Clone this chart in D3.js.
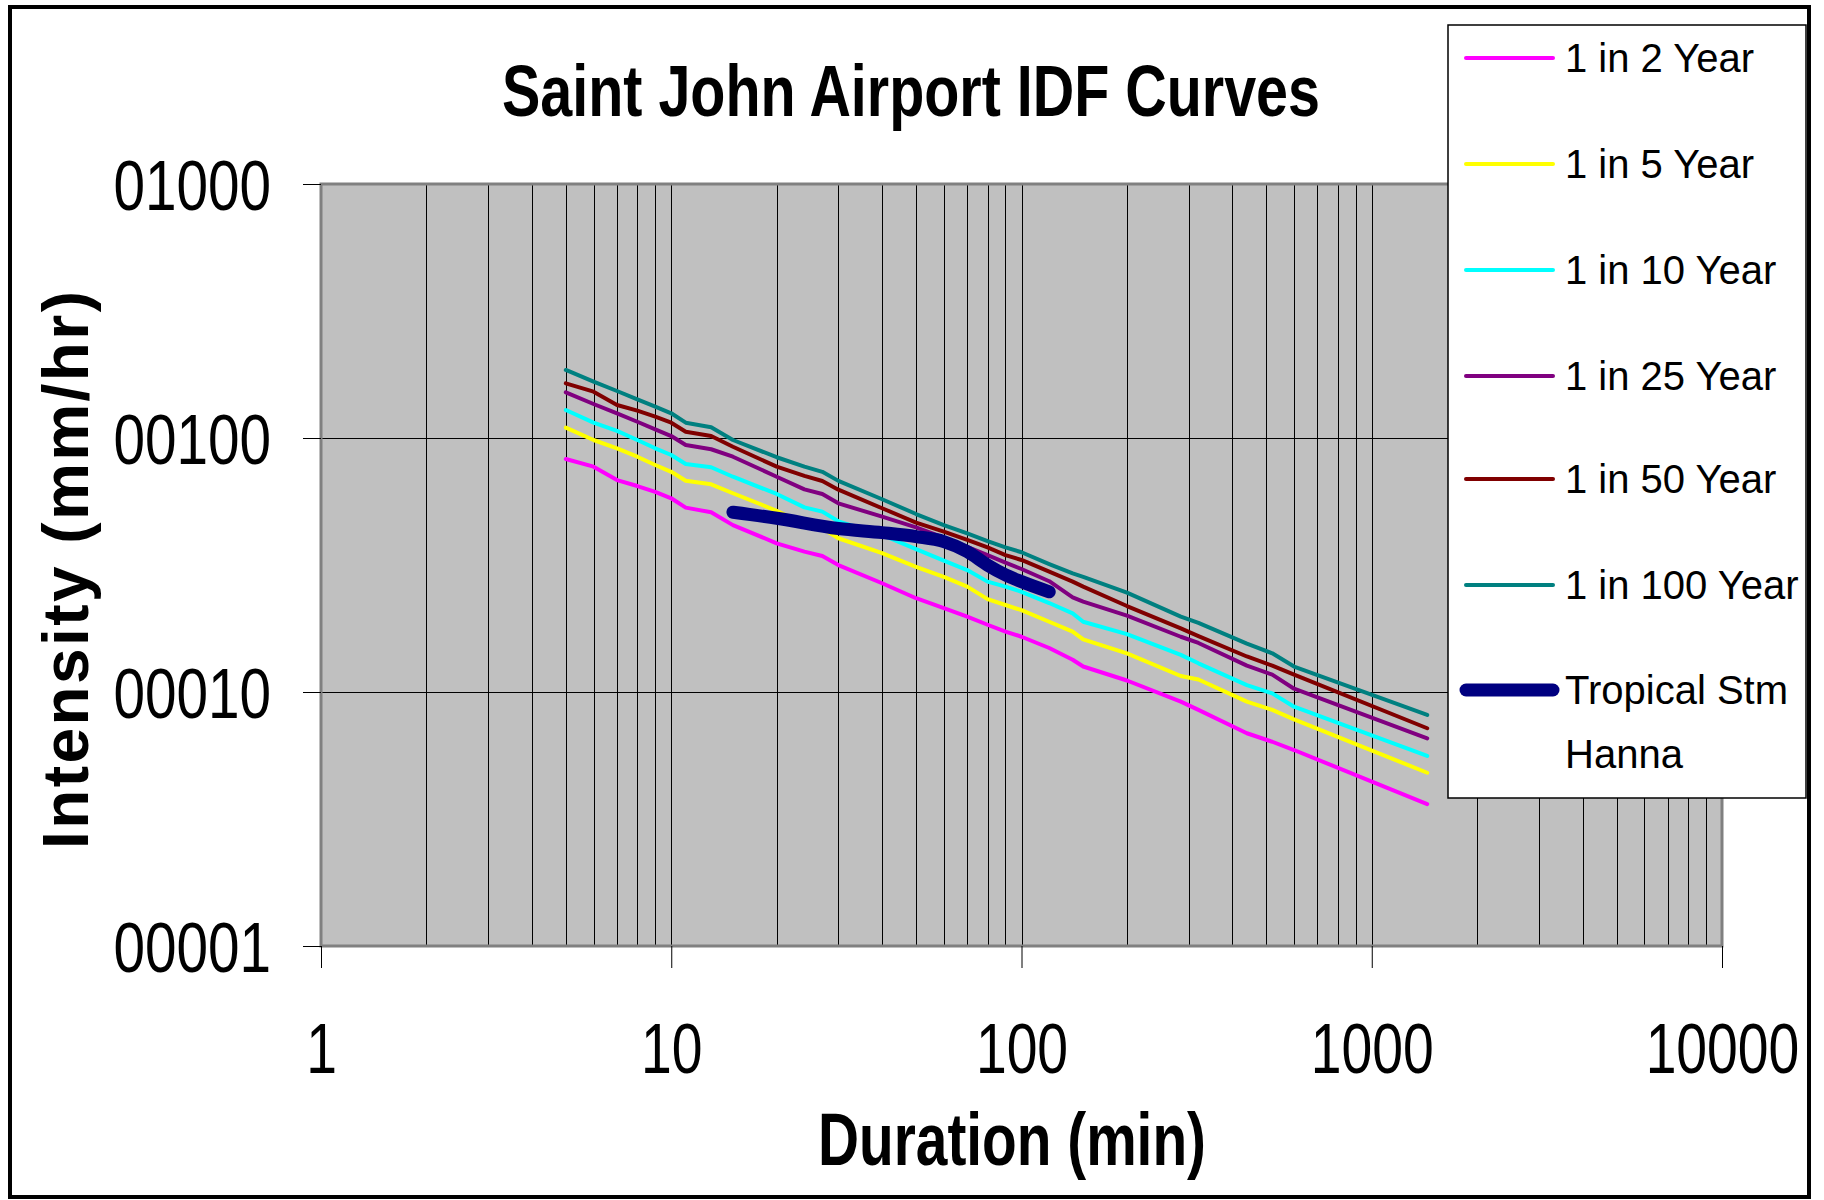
<!DOCTYPE html>
<html>
<head>
<meta charset="utf-8">
<script src="https://cdn.jsdelivr.net/npm/d3@7"></script>
<style>
  body { margin: 0; background: #fff; }
  svg { display: block; font-family: "Liberation Sans", Arial, sans-serif; }
</style>
</head>
<body>
<svg id="chart" width="1824" height="1200"></svg>
<script>
// durations (min) shared by the IDF curves
var durations = [5, 6, 7, 8, 9, 10, 11, 13, 15, 20, 24, 27, 30, 40, 50, 60, 70, 80, 90, 100,
                 120, 140, 150, 200, 285, 320, 440, 520, 600, 1440];

// intensities (mm/hr)
var twoYear = [82.7, 77.1, 68.3, 64.7, 61.4, 57.9, 53.2, 51.0, 45.4, 38.5, 35.7, 34.3, 31.6, 26.8, 23.4, 21.4, 19.8, 18.4, 17.3, 16.5,
               14.9, 13.4, 12.6, 11.1, 9.16, 8.5, 6.88, 6.37, 5.91, 3.62];
var fiveYear = [109.8, 98.2, 91.1, 84.4, 78.3, 73.6, 67.9, 65.7, 60.6, 51.7, 45.8, 44.1, 40.3, 35.2, 31.1, 28.4, 26.0, 23.2, 22.0, 21.0,
                18.9, 17.3, 16.1, 14.2, 11.56, 11.2, 9.16, 8.5, 7.8, 4.81];
var tenYear = [128.9, 114.9, 106.6, 98.2, 91.1, 85.7, 79.0, 76.7, 70.4, 60.2, 53.3, 51.3, 47.0, 41.5, 36.5, 32.9, 30.2, 27.2, 26.0, 24.8,
               22.4, 20.4, 18.9, 16.9, 14.0, 12.97, 10.65, 9.88, 8.75, 5.6];
var twentyFiveYear = [151.3, 136.1, 125.1, 115.9, 108.2, 101.8, 93.8, 90.3, 84.4, 70.4, 62.8, 60.2, 55.3, 49.0, 44.5, 40.5, 37.3, 34.6, 32.3, 30.5,
                      27.3, 23.6, 22.7, 20.0, 16.5, 15.6, 12.7, 11.7, 10.3, 6.57];
var fiftyYear = [164.2, 152.2, 134.9, 128.1, 121.3, 114.9, 105.9, 101.8, 92.4, 77.1, 70.9, 67.7, 62.6, 52.9, 46.4, 42.8, 39.7, 37.1, 34.6, 33.1,
                 29.8, 27.2, 26.0, 21.8, 17.8, 16.6, 13.8, 12.7, 11.7, 7.2];
var hundredYear = [185.3, 166.6, 153.1, 142.0, 132.8, 125.1, 114.9, 110.2, 98.2, 84.0, 77.1, 73.6, 67.8, 57.4, 50.2, 45.4, 42.1, 39.3, 37.1, 35.5,
                   31.9, 29.3, 28.4, 24.6, 19.8, 18.7, 15.5, 14.2, 12.6, 8.12];

// Tropical Storm Hanna
var hannaDurations = [15, 20, 30, 40, 50, 60, 70, 80, 90, 100, 120];
var hannaValues = [51.0, 48.3, 44.0, 42.4, 40.9, 39.1, 35.7, 31.6, 28.9, 27.2, 24.8];

var seriesNames = ["1 in 2 Year", "1 in 5 Year", "1 in 10 Year", "1 in 25 Year", "1 in 50 Year", "1 in 100 Year"];
var seriesColors = ["#ff00ff", "#ffff00", "#00ffff", "#800080", "#800000", "#008080"];
var seriesValues = [twoYear, fiveYear, tenYear, twentyFiveYear, fiftyYear, hundredYear];

var xTickValues = [1, 10, 100, 1000, 10000];
var xTickLabels = ["1", "10", "100", "1000", "10000"];
var yTickValues = [1, 10, 100, 1000];
var yTickLabels = ["00001", "00010", "00100", "01000"];

var plot = {left: 321, right: 1722, top: 184, bottom: 946};

var svg = d3.select("#chart");

var x = d3.scaleLog().domain([1, 10000]).range([plot.left, plot.right]);
var y = d3.scaleLog().domain([1, 1000]).range([plot.bottom, plot.top]);

// outer frame
svg.append("rect")
  .attr("x", 10).attr("y", 7)
  .attr("width", 1799).attr("height", 1190)
  .attr("fill", "#fff")
  .attr("stroke", "#000")
  .attr("stroke-width", 4);

// plot area
svg.append("rect")
  .attr("x", plot.left).attr("y", plot.top)
  .attr("width", plot.right - plot.left)
  .attr("height", plot.bottom - plot.top)
  .attr("fill", "#c0c0c0");

// grid lines
var xGrid = x.ticks().filter(function(d) { return d > 1 && d < 10000; });
svg.append("g")
  .selectAll("line")
  .data(xGrid)
  .enter().append("line")
  .attr("x1", function(d) { return Math.round(x(d)) + 0.5; })
  .attr("x2", function(d) { return Math.round(x(d)) + 0.5; })
  .attr("y1", plot.top)
  .attr("y2", plot.bottom)
  .attr("stroke", "#000")
  .attr("stroke-width", 1);

svg.append("g")
  .selectAll("line")
  .data(yTickValues.filter(function(d) { return d > 1 && d < 1000; }))
  .enter().append("line")
  .attr("x1", plot.left)
  .attr("x2", plot.right)
  .attr("y1", function(d) { return Math.round(y(d)) + 0.5; })
  .attr("y2", function(d) { return Math.round(y(d)) + 0.5; })
  .attr("stroke", "#000")
  .attr("stroke-width", 1);

// plot border
svg.append("rect")
  .attr("x", plot.left).attr("y", plot.top)
  .attr("width", plot.right - plot.left)
  .attr("height", plot.bottom - plot.top)
  .attr("fill", "none")
  .attr("stroke", "#808080")
  .attr("stroke-width", 3);

// axes
var yAxis = d3.axisLeft(y)
  .tickValues(yTickValues)
  .tickFormat(function(d, i) { return yTickLabels[i]; })
  .tickSize(18)
  .tickPadding(32);

var gy = svg.append("g")
  .attr("transform", "translate(" + plot.left + ",0)")
  .call(yAxis);
gy.select(".domain").remove();
gy.selectAll(".tick line").attr("stroke", "#000");
gy.selectAll(".tick text")
  .attr("dy", "0.36em")
  .style("font-family", "'Liberation Sans', Arial, sans-serif")
  .style("font-size", "70px")
  .attr("fill", "#000")
  .attr("textLength", function(d, i) { return yTickLabels[i].length * 31.5; })
  .attr("lengthAdjust", "spacingAndGlyphs");

var xAxis = d3.axisBottom(x)
  .tickValues(xTickValues)
  .tickFormat(function(d, i) { return xTickLabels[i]; })
  .tickSize(22)
  .tickPadding(55);

var gx = svg.append("g")
  .attr("transform", "translate(0," + plot.bottom + ")")
  .call(xAxis);
gx.select(".domain").remove();
gx.selectAll(".tick line").attr("stroke", "#000");
// narrow digits, squeezed around the tick centre
gx.selectAll(".tick text")
  .style("font-family", "'Liberation Sans', Arial, sans-serif")
  .style("font-size", "70px")
  .attr("fill", "#000")
  .attr("transform", "scale(0.79,1)");

// series
var line = d3.line()
  .x(function(d) { return x(d[0]); })
  .y(function(d) { return y(d[1]); });

seriesValues.forEach(function(vals, i) {
  svg.append("path")
    .datum(durations.map(function(d, j) { return [d, vals[j]]; }))
    .attr("d", line)
    .attr("fill", "none")
    .attr("stroke", seriesColors[i])
    .attr("stroke-width", 4)
    .attr("stroke-linejoin", "round")
    .attr("stroke-linecap", "round");
});

svg.append("path")
  .datum(hannaDurations.map(function(d, j) { return [d, hannaValues[j]]; }))
  .attr("d", line.curve(d3.curveMonotoneX))
  .attr("fill", "none")
  .attr("stroke", "#000080")
  .attr("stroke-width", 13)
  .attr("stroke-linejoin", "round")
  .attr("stroke-linecap", "round");

// title and axis titles
svg.append("text")
  .attr("x", 911).attr("y", 116)
  .attr("text-anchor", "middle")
  .style("font-size", "72px")
  .style("font-weight", "bold")
  .attr("textLength", 818)
  .attr("lengthAdjust", "spacingAndGlyphs")
  .text("Saint John Airport IDF Curves");

svg.append("text")
  .attr("x", 1012).attr("y", 1165)
  .attr("text-anchor", "middle")
  .style("font-size", "74px")
  .style("font-weight", "bold")
  .attr("textLength", 388)
  .attr("lengthAdjust", "spacingAndGlyphs")
  .text("Duration (min)");

svg.append("text")
  .attr("transform", "translate(88,570) rotate(-90)")
  .attr("text-anchor", "middle")
  .style("font-size", "64px")
  .style("font-weight", "bold")
  .attr("textLength", 558)
  .attr("lengthAdjust", "spacing")
  .text("Intensity (mm/hr)");

// legend
var legend = svg.append("g");
legend.append("rect")
  .attr("x", 1448).attr("y", 25)
  .attr("width", 358).attr("height", 773)
  .attr("fill", "#fff")
  .attr("stroke", "#000")
  .attr("stroke-width", 1.5);

var legendRows = [58, 164, 270, 376, 479, 585];
seriesNames.forEach(function(name, i) {
  legend.append("line")
    .attr("x1", 1466).attr("x2", 1553)
    .attr("y1", legendRows[i]).attr("y2", legendRows[i])
    .attr("stroke", seriesColors[i])
    .attr("stroke-width", 4)
    .attr("stroke-linecap", "round");
  legend.append("text")
    .attr("x", 1565).attr("y", legendRows[i])
    .attr("dy", "0.36em")
    .style("font-size", "40px")
    .text(name);
});

legend.append("line")
  .attr("x1", 1466).attr("x2", 1553)
  .attr("y1", 690).attr("y2", 690)
  .attr("stroke", "#000080")
  .attr("stroke-width", 13)
  .attr("stroke-linecap", "round");
legend.append("text")
  .attr("x", 1565).attr("y", 690)
  .attr("dy", "0.36em")
  .style("font-size", "40px")
  .text("Tropical Stm");
legend.append("text")
  .attr("x", 1565).attr("y", 754)
  .attr("dy", "0.36em")
  .style("font-size", "40px")
  .text("Hanna");
</script>
</body>
</html>
